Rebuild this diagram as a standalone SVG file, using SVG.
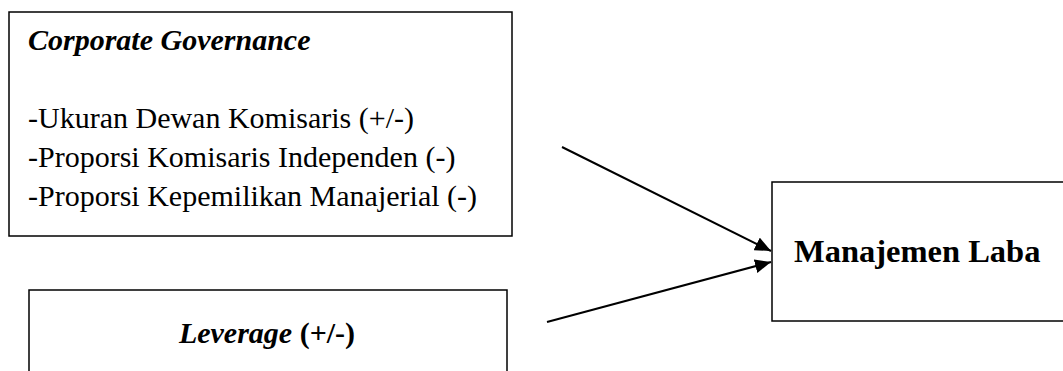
<svg xmlns="http://www.w3.org/2000/svg" width="1063" height="371" viewBox="0 0 1063 371">
<defs>
<style>
.box{fill:#fff;stroke:#000;stroke-width:1.5}
.t{font-family:"Liberation Serif","Times New Roman",serif;font-size:30px;fill:#000}
.b{font-weight:bold}
.i{font-style:italic}
.big{font-size:32.5px}
.con{stroke:#000;stroke-width:2;fill:none}
</style>
<marker id="ah" markerUnits="userSpaceOnUse" markerWidth="16" markerHeight="14" refX="16" refY="7" orient="auto">
<path d="M0,0 L16,7 L0,14 Z" fill="#000"/>
</marker>
</defs>
<rect width="1063" height="371" fill="#fff"/>
<g id="cg">
<rect class="box" x="9" y="12" width="503" height="224"/>
<text class="t b i" x="28" y="50">Corporate Governance</text>
<text class="t" x="28" y="128">-Ukuran Dewan Komisaris (+/-)</text>
<text class="t" x="28" y="167">-Proporsi Komisaris Independen (-)</text>
<text class="t" x="28" y="206">-Proporsi Kepemilikan Manajerial (-)</text>
</g>
<g id="lev">
<rect class="box" x="29" y="290" width="478" height="100"/>
<text class="t" x="267" y="343" text-anchor="middle"><tspan class="b i">Leverage</tspan> <tspan class="b">(+/-)</tspan></text>
</g>
<g id="ml">
<rect class="box" x="772" y="182" width="300" height="139"/>
<text class="t b big" x="794" y="262">Manajemen Laba</text>
</g>
<g id="connectors">
<line class="con" x1="562" y1="147" x2="771" y2="251" marker-end="url(#ah)"/>
<line class="con" x1="547" y1="322" x2="771" y2="262" marker-end="url(#ah)"/>
</g>
</svg>
